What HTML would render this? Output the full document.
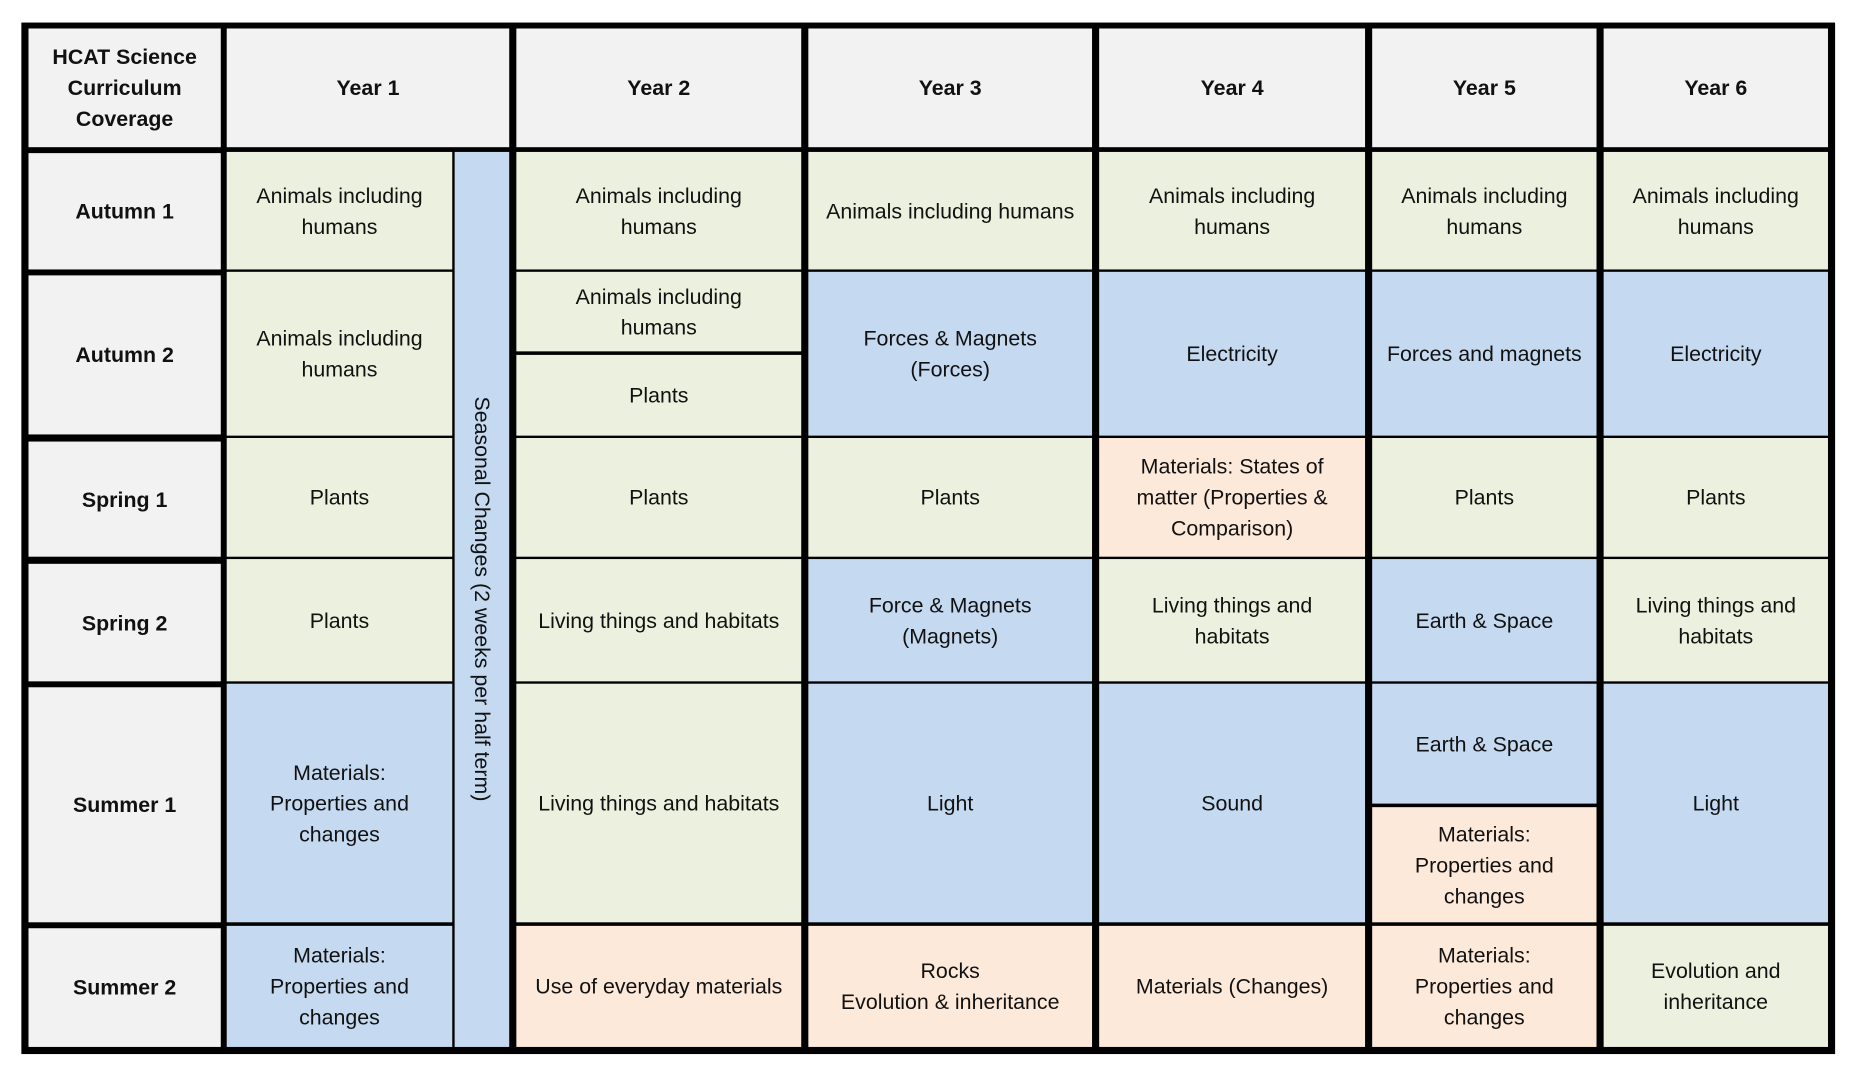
<!DOCTYPE html>
<html><head><meta charset="utf-8"><style>
html,body{margin:0;padding:0;background:#fff;width:1860px;height:1076px;overflow:hidden}
#w{position:absolute;left:0;top:0;width:1563px;height:905px;transform:scale(1.187);transform-origin:0 0}
#t{position:absolute;left:18px;top:19px;width:1528px;height:869px;background:#000}
.c{position:absolute;display:flex;align-items:center;justify-content:center;text-align:center;font-family:"Liberation Sans",sans-serif;font-size:18px;line-height:26px;color:#111;box-sizing:border-box;padding:0 4px}
.h{background:#f2f2f2;font-weight:bold;font-size:18px}
.g{background:#ebf1de}.b{background:#c5d9f1}.p{background:#fde9d9}
.v{writing-mode:vertical-rl;padding:0}
</style></head><body><div id="w"><div id="t"></div>
<div class="c h" style="left:24px;top:24px;width:162px;height:100px">HCAT Science Curriculum Coverage</div>
<div class="c h" style="left:191px;top:24px;width:238px;height:100px">Year 1</div>
<div class="c h" style="left:435px;top:24px;width:240px;height:100px">Year 2</div>
<div class="c h" style="left:681px;top:24px;width:239px;height:100px">Year 3</div>
<div class="c h" style="left:926px;top:24px;width:224px;height:100px">Year 4</div>
<div class="c h" style="left:1156px;top:24px;width:189px;height:100px">Year 5</div>
<div class="c h" style="left:1351px;top:24px;width:189px;height:100px">Year 6</div>
<div class="c h" style="left:24px;top:129px;width:162px;height:98px">Autumn 1</div>
<div class="c h" style="left:24px;top:232px;width:162px;height:134px">Autumn 2</div>
<div class="c h" style="left:24px;top:372px;width:162px;height:97px">Spring 1</div>
<div class="c h" style="left:24px;top:475px;width:162px;height:99px">Spring 2</div>
<div class="c h" style="left:24px;top:579px;width:162px;height:198px">Summer 1</div>
<div class="c h" style="left:24px;top:782px;width:162px;height:100px">Summer 2</div>
<div class="c g" style="left:191px;top:128px;width:190px;height:99px">Animals including<br>humans</div>
<div class="c g" style="left:191px;top:229px;width:190px;height:138px">Animals including<br>humans</div>
<div class="c g" style="left:191px;top:369px;width:190px;height:100px">Plants</div>
<div class="c g" style="left:191px;top:471px;width:190px;height:103px">Plants</div>
<div class="c b" style="left:191px;top:576px;width:190px;height:201px">Materials:<br>Properties and<br>changes</div>
<div class="c b" style="left:191px;top:780px;width:190px;height:102px">Materials:<br>Properties and<br>changes</div>
<div class="c b v" style="left:383px;top:128px;width:46px;height:754px">Seasonal Changes (2 weeks per half term)</div>
<div class="c g" style="left:435px;top:128px;width:240px;height:99px">Animals including<br>humans</div>
<div class="c g" style="left:435px;top:229px;width:240px;height:67px">Animals including<br>humans</div>
<div class="c g" style="left:435px;top:299px;width:240px;height:68px">Plants</div>
<div class="c g" style="left:435px;top:369px;width:240px;height:100px">Plants</div>
<div class="c g" style="left:435px;top:471px;width:240px;height:103px">Living things and habitats</div>
<div class="c g" style="left:435px;top:576px;width:240px;height:201px">Living things and habitats</div>
<div class="c p" style="left:435px;top:780px;width:240px;height:102px">Use of everyday materials</div>
<div class="c g" style="left:681px;top:128px;width:239px;height:99px">Animals including humans</div>
<div class="c b" style="left:681px;top:229px;width:239px;height:138px">Forces &amp; Magnets<br>(Forces)</div>
<div class="c g" style="left:681px;top:369px;width:239px;height:100px">Plants</div>
<div class="c b" style="left:681px;top:471px;width:239px;height:103px">Force &amp; Magnets<br>(Magnets)</div>
<div class="c b" style="left:681px;top:576px;width:239px;height:201px">Light</div>
<div class="c p" style="left:681px;top:780px;width:239px;height:102px">Rocks<br>Evolution &amp; inheritance</div>
<div class="c g" style="left:926px;top:128px;width:224px;height:99px">Animals including<br>humans</div>
<div class="c b" style="left:926px;top:229px;width:224px;height:138px">Electricity</div>
<div class="c p" style="left:926px;top:369px;width:224px;height:100px">Materials: States of<br>matter (Properties &amp;<br>Comparison)</div>
<div class="c g" style="left:926px;top:471px;width:224px;height:103px">Living things and<br>habitats</div>
<div class="c b" style="left:926px;top:576px;width:224px;height:201px">Sound</div>
<div class="c p" style="left:926px;top:780px;width:224px;height:102px">Materials (Changes)</div>
<div class="c g" style="left:1156px;top:128px;width:189px;height:99px">Animals including<br>humans</div>
<div class="c b" style="left:1156px;top:229px;width:189px;height:138px">Forces and magnets</div>
<div class="c g" style="left:1156px;top:369px;width:189px;height:100px">Plants</div>
<div class="c b" style="left:1156px;top:471px;width:189px;height:103px">Earth &amp; Space</div>
<div class="c b" style="left:1156px;top:576px;width:189px;height:101px">Earth &amp; Space</div>
<div class="c p" style="left:1156px;top:680px;width:189px;height:97px">Materials:<br>Properties and<br>changes</div>
<div class="c p" style="left:1156px;top:780px;width:189px;height:102px">Materials:<br>Properties and<br>changes</div>
<div class="c g" style="left:1351px;top:128px;width:189px;height:99px">Animals including<br>humans</div>
<div class="c b" style="left:1351px;top:229px;width:189px;height:138px">Electricity</div>
<div class="c g" style="left:1351px;top:369px;width:189px;height:100px">Plants</div>
<div class="c g" style="left:1351px;top:471px;width:189px;height:103px">Living things and<br>habitats</div>
<div class="c b" style="left:1351px;top:576px;width:189px;height:201px">Light</div>
<div class="c g" style="left:1351px;top:780px;width:189px;height:102px">Evolution and<br>inheritance</div>
</div></body></html>
